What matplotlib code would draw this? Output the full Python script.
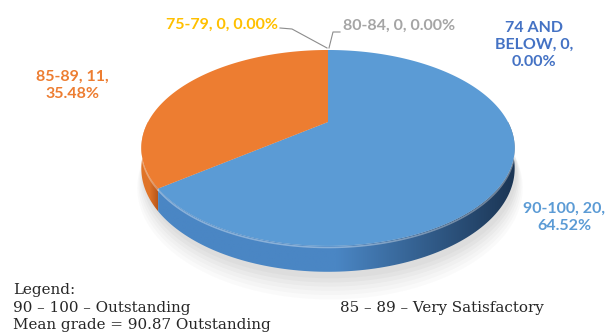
import numpy as np
import matplotlib
matplotlib.use("Agg")
import matplotlib.pyplot as plt
from matplotlib.patches import Polygon
from matplotlib.colors import LinearSegmentedColormap

# ---------------- data ----------------
categories = ["74 AND BELOW", "90-100", "85-89", "80-84", "75-79"]
counts = [0, 20, 11, 0, 0]
percents = ["0.00%", "64.52%", "35.48%", "0.00%", "0.00%"]
label_colors = ["#4472c4", "#5b9bd5", "#ed7d31", "#a5a5a5", "#ffc000"]
top_colors = ["#4472c4", "#5b9bd5", "#ed7d31", "#a5a5a5", "#ffc000"]
side_left = ["#2f5597", "#4a86c4", "#e07428", "#8c8c8c", "#e0a800"]
side_right = ["#1f3864", "#1b3554", "#b8561a", "#6c6c6c", "#b08400"]
legend_lines = ["Legend:", "90 \u2013 100 \u2013 Outstanding", "Mean grade = 90.87 Outstanding"]
legend_right = "85 \u2013 89 \u2013 Very Satisfactory"

# ---------------- geometry (pixel space, y downward) ----------------
W, H = 606, 334
X0, Y0 = 328.0, 122.0   # projected pie centre
AX, B = 180.0, 91.1     # horizontal / vertical radius factors
P = 0.265               # perspective strength
DZ = 19.0               # thickness


def proj(t_deg, r=1.0, z=0.0):
    t = np.radians(np.asarray(t_deg, dtype=float))
    u = r * np.cos(t)
    v = r * np.sin(t)
    den = 1.0 + P * v
    x = X0 + AX * u / den
    y = Y0 + (-B * v + DZ * z) / den
    return x, y


fig = plt.figure(figsize=(W / 100, H / 100), dpi=100)
ax = fig.add_axes([0, 0, 1, 1])
ax.set_xlim(0, W)
ax.set_ylim(H, 0)
ax.axis("off")

total = float(sum(counts))
fracs = np.array(counts) / total
cum = np.concatenate([[0.0], np.cumsum(fracs)])
starts = 90.0 - 360.0 * cum[:-1]
ends = 90.0 - 360.0 * cum[1:]

# soft shadow under the pie
for k, a in zip(range(6), [0.05, 0.05, 0.05, 0.04, 0.04, 0.03]):
    ts = np.linspace(-180, 180, 200)
    sx, sy = proj(ts, r=1.0 + 0.006 * k, z=1.25 + 0.12 * k)
    ax.fill(sx + 2, sy, color="#7f7f7f", alpha=a, lw=0, zorder=1)

# side walls (front half only)
gx = np.linspace(0, 1, 256).reshape(1, -1)
for i in range(len(counts)):
    if counts[i] == 0:
        continue
    lo, hi = min(starts[i], ends[i]), max(starts[i], ends[i])
    a1, a2 = max(lo, -180.0), min(hi, 0.0)
    if a2 <= a1:
        continue
    ts = np.linspace(a1, a2, 120)
    tx, ty = proj(ts, z=0.0)
    bx, by = proj(ts[::-1], z=1.0)
    poly = np.column_stack([np.concatenate([tx, bx]), np.concatenate([ty, by])])
    patch = Polygon(poly, closed=True, facecolor="none", edgecolor="none", zorder=2)
    ax.add_patch(patch)
    cmap = LinearSegmentedColormap.from_list("s%d" % i, [side_left[i], side_left[i], side_right[i]])
    xmin, xmax = poly[:, 0].min(), poly[:, 0].max()
    ymin, ymax = poly[:, 1].min(), poly[:, 1].max()
    im = ax.imshow(gx, cmap=cmap, extent=[xmin, xmax, ymax, ymin], aspect="auto",
                   zorder=2, interpolation="bilinear")
    im.set_clip_path(patch)
    ax.plot(tx, ty + 1.5, color="white", alpha=0.35, lw=1.2, zorder=3)

# top faces
for i in range(len(counts)):
    if counts[i] == 0:
        continue
    ts = np.linspace(starts[i], ends[i], 240)
    ax_, ay_ = proj(ts)
    xs = np.concatenate([[X0], ax_])
    ys = np.concatenate([[Y0], ay_])
    ax.fill(xs, ys, color=top_colors[i], lw=0, zorder=4)

# ---------------- labels ----------------
lab_font = dict(family=["Lato", "DejaVu Sans"], fontweight="bold", fontsize=11.5)

ax.text(534, 45, "74 AND\nBELOW, 0,\n0.00%", color=label_colors[0], ha="center", va="center",
        linespacing=1.3, zorder=6, **lab_font)
ax.text(564, 217, f"{categories[1]}, {counts[1]},\n{percents[1]}", color=label_colors[1],
        ha="center", va="center", linespacing=1.3, zorder=6, **lab_font)
ax.text(72, 85, f"{categories[2]}, {counts[2]},\n{percents[2]}", color=label_colors[2],
        ha="center", va="center", linespacing=1.3, zorder=6, **lab_font)
ax.text(343, 26, f"{categories[3]}, {counts[3]}, {percents[3]}", color=label_colors[3],
        ha="left", va="center", zorder=6, **lab_font)
ax.text(278, 25, f"{categories[4]}, {counts[4]}, {percents[4]}", color=label_colors[4],
        ha="right", va="center", zorder=6, **lab_font)

# leader lines to the zero-size slices at the top of the pie
px, py = proj(starts[3])
px, py = float(px), float(py)
ax.plot([280, 292, px - 1], [28, 29, py - 2], color="#8c8c8c", lw=0.8, zorder=5)
ax.plot([px + 1, px + 5, 340], [py - 2, 32, 32], color="#8c8c8c", lw=0.8, zorder=5)

# ---------------- legend text ----------------
ser = dict(family=["DejaVu Serif"], fontsize=10.9, color="#262626")
ax.text(13, 294, legend_lines[0], ha="left", va="baseline", **ser)
ax.text(13, 312, legend_lines[1], ha="left", va="baseline", **ser)
ax.text(13, 329, legend_lines[2], ha="left", va="baseline", **ser)
ax.text(340, 312, legend_right, ha="left", va="baseline", **ser)

fig.savefig("out.png", dpi=100)
